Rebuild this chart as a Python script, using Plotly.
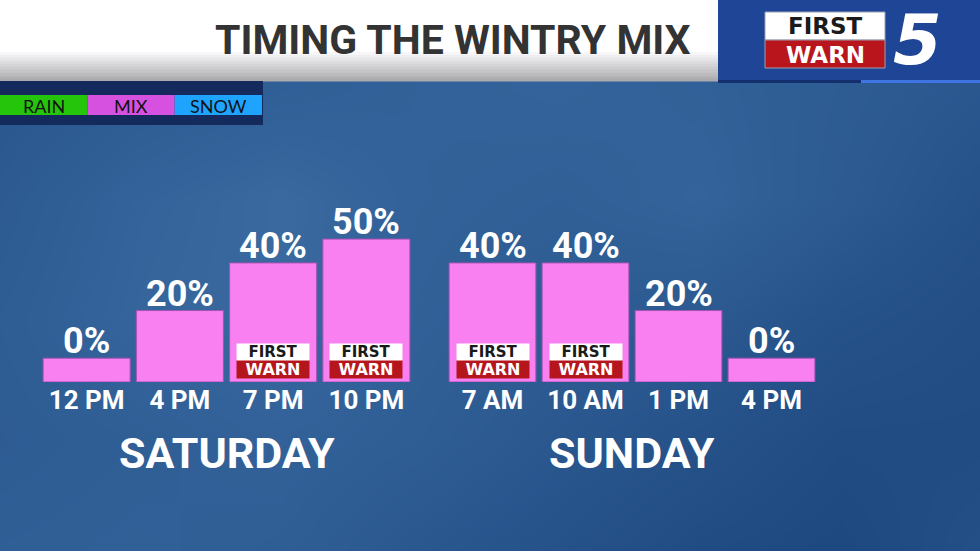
import plotly.graph_objects as go

# --- chart data ---
saturday_times = ["12 PM", "4 PM", "7 PM", "10 PM"]
saturday_chance = [0, 20, 40, 50]
sunday_times = ["7 AM", "10 AM", "1 PM", "4 PM"]
sunday_chance = [40, 40, 20, 0]
day_names = ["SATURDAY", "SUNDAY"]

precip_types = ["RAIN", "MIX", "SNOW"]
precip_colors = ["#25c50c", "#d651e0", "#1ea4ff"]

title_text = "TIMING THE WINTRY MIX"

# background tone (0 dark .. 1 light), rows top->bottom, cols left->right
bg_cols = [0, 140, 280, 420, 560, 700, 840, 980]
bg_rows = [90, 200, 320, 440, 551]
bg_tone = [
    [0.32, 0.40, 0.45, 0.48, 0.50, 0.47, 0.40, 0.33],
    [0.38, 0.50, 0.56, 0.48, 0.45, 0.50, 0.38, 0.26],
    [0.42, 0.52, 0.56, 0.46, 0.40, 0.36, 0.26, 0.20],
    [0.40, 0.44, 0.48, 0.42, 0.33, 0.26, 0.17, 0.17],
    [0.44, 0.46, 0.43, 0.33, 0.26, 0.17, 0.12, 0.22],
]

FLOOR = 10        # every bar keeps a small stub, even at 0%
LOGO_MIN = 40     # bars this tall carry the First Warn bug
BAR_PINK = "#f980f0"
NUM_FONT = "Roboto, sans-serif"

fig = go.Figure()

# background wash on a full-page pixel axis
fig.add_trace(
    go.Heatmap(
        x=bg_cols,
        y=bg_rows,
        z=bg_tone,
        zmin=0,
        zmax=1,
        zsmooth="best",
        colorscale=[[0, "#173f77"], [0.5, "#33639a"], [1, "#6d95c1"]],
        showscale=False,
        hoverinfo="skip",
        xaxis="x",
        yaxis="y",
    )
)

for times, chance, xa in [
    (saturday_times, saturday_chance, "x2"),
    (sunday_times, sunday_chance, "x3"),
]:
    fig.add_trace(
        go.Bar(
            x=times,
            y=[c + FLOOR for c in chance],
            base=-FLOOR,
            marker=dict(color=BAR_PINK, line=dict(color="#a452b4", width=1)),
            hoverinfo="skip",
            xaxis=xa,
            yaxis="y2",
            showlegend=False,
        )
    )
    for t, c in zip(times, chance):
        # value label sitting on the bar top
        fig.add_annotation(
            x=t, y=c, xref=xa, yref="y2",
            yanchor="bottom", yshift=-6,
            text=f"{c}%", showarrow=False,
            font=dict(family=NUM_FONT, size=36, color="white", weight="bold"),
        )
        # mini First Warn bugs at the foot of the tall bars
        if c >= LOGO_MIN:
            fig.add_annotation(
                x=t, y=-FLOOR, xref=xa, yref="y2",
                yanchor="bottom", yshift=3,
                width=72, height=18, bgcolor="#b5161d", borderpad=0,
                text="WARN", showarrow=False,
                font=dict(family="DejaVu Sans", size=16, color="white", weight="bold"),
            )
            fig.add_annotation(
                x=t, y=-FLOOR, xref=xa, yref="y2",
                yanchor="bottom", yshift=21,
                width=72, height=16, bgcolor="white", borderpad=0,
                text="FIRST", showarrow=False,
                font=dict(family="DejaVu Sans", size=15, color="#1a1a1a", weight="bold"),
            )

# day labels under each group
for name, xa in zip(day_names, ["x2", "x3"]):
    fig.add_annotation(
        x=0.5, y=453, xref=f"{xa} domain", yref="y", yanchor="middle",
        text=name, showarrow=False,
        font=dict(family=NUM_FONT, size=43, color="white", weight="bold"),
    )

shapes = []
# header white bar with grey fade
shapes.append(dict(type="rect", x0=0, x1=718, y0=0, y1=81, fillcolor="white", line_width=0))
steps = 10
for i in range(steps):
    g = int(255 - (255 - 172) * (i + 1) / steps)
    shapes.append(dict(
        type="rect", x0=0, x1=718,
        y0=52 + i * 2.9, y1=52 + (i + 1) * 2.9 + 0.5,
        fillcolor=f"rgb({g},{g},{min(g + 3, 255)})", line_width=0,
    ))
# logo block
shapes.append(dict(type="rect", x0=718, x1=980, y0=0, y1=81, fillcolor="#1f4597", line_width=0))
shapes.append(dict(type="rect", x0=718, x1=861, y0=80, y1=83, fillcolor="#132f6e", line_width=0))
shapes.append(dict(type="rect", x0=861, x1=980, y0=80, y1=83, fillcolor="#3f75e2", line_width=0))
shapes.append(dict(type="rect", x0=765, x1=885, y0=12, y1=40, fillcolor="white",
                   line=dict(color="#9aa0b0", width=1)))
shapes.append(dict(type="rect", x0=765, x1=885, y0=40, y1=68, fillcolor="#b8151c",
                   line=dict(color="#9aa0b0", width=1)))
# precip-type key
shapes.append(dict(type="rect", x0=0, x1=263, y0=81, y1=125, fillcolor="#142a5c", line_width=0))
key_w = 262 / len(precip_types)
for i, col in enumerate(precip_colors):
    shapes.append(dict(type="rect", x0=i * key_w, x1=(i + 1) * key_w, y0=95, y1=115,
                       fillcolor=col, line_width=0))
for s in shapes:
    s.update(xref="x", yref="y", layer="above")

for i, label in enumerate(precip_types):
    fig.add_annotation(
        x=(i + 0.5) * key_w, y=105.5, xref="x", yref="y", text=label, showarrow=False,
        font=dict(family="Lato, Noto Sans, sans-serif", size=18, color="#111111"),
    )

fig.add_annotation(
    x=453, y=40, xref="x", yref="y", text=title_text, showarrow=False,
    font=dict(family=NUM_FONT, size=41, color="#333333", weight="bold"),
)
fig.add_annotation(
    x=825, y=25.5, xref="x", yref="y", text="FIRST", showarrow=False,
    font=dict(family="DejaVu Sans", size=23, color="#1b1b1b", weight="bold"),
)
fig.add_annotation(
    x=825, y=55, xref="x", yref="y", text="WARN", showarrow=False,
    font=dict(family="DejaVu Sans", size=23, color="white", weight="bold"),
)
fig.add_annotation(
    x=917, y=40, xref="x", yref="y", text="<i>5</i>", showarrow=False,
    font=dict(family="DejaVu Sans", size=70, color="white", weight="bold"),
)

tick_font = dict(family=NUM_FONT, size=26, color="white", weight="bold")
y_bottom_px, y_top_px = 382, 120

fig.update_layout(
    width=980,
    height=551,
    margin=dict(l=0, r=0, t=0, b=0),
    paper_bgcolor="#2d5b91",
    plot_bgcolor="rgba(0,0,0,0)",
    bargap=0.067,
    shapes=shapes,
    xaxis=dict(domain=[0, 1], range=[0, 980], visible=False, fixedrange=True),
    yaxis=dict(domain=[0, 1], range=[551, 0], visible=False, fixedrange=True),
    xaxis2=dict(domain=[40 / 980, 413 / 980], anchor="y2", showgrid=False,
                zeroline=False, showline=False, ticks="", tickfont=tick_font),
    xaxis3=dict(domain=[446 / 980, 818 / 980], anchor="y2", showgrid=False,
                zeroline=False, showline=False, ticks="", tickfont=tick_font),
    yaxis2=dict(domain=[(551 - y_bottom_px) / 551, (551 - y_top_px) / 551],
                range=[-FLOOR, 100], visible=False),
)

fig.write_html(
    "out.html",
    config={"displayModeBar": False},
    post_script="document.body.style.margin='0';document.body.style.overflow='hidden';",
)
